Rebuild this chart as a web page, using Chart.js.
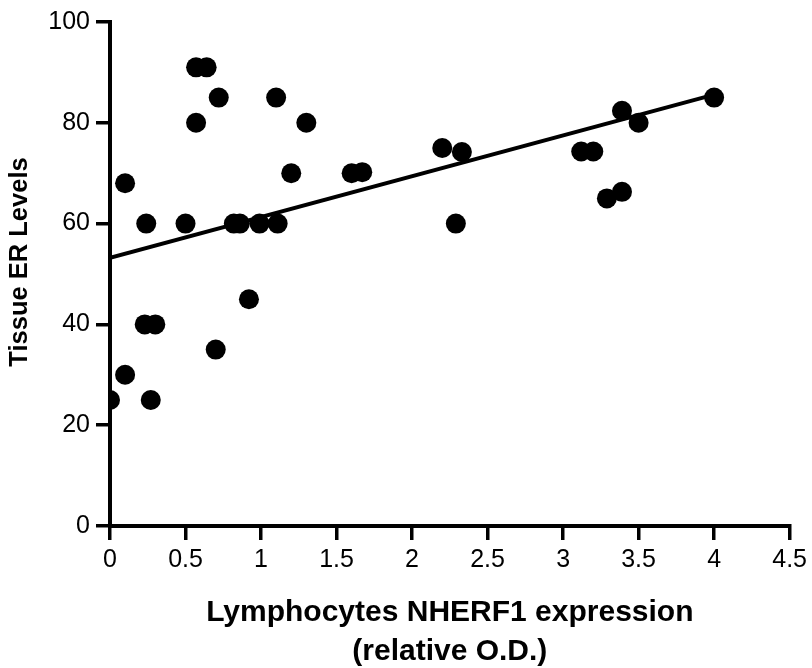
<!DOCTYPE html>
<html>
<head>
<meta charset="utf-8">
<script src="https://cdn.jsdelivr.net/npm/chart.js@4.4.1/dist/chart.umd.min.js"></script>
<style>
  html, body { margin: 0; padding: 0; background: #fff; }
  #wrap { width: 812px; height: 668px; }
</style>
</head>
<body>
<div id="wrap"><canvas id="c" width="812" height="668"></canvas></div>
<script>
// Data
const nherf1 = [0.00, 0.10, 0.10, 0.23, 0.30, 0.24, 0.27, 0.50, 0.57, 0.64, 0.57, 0.72, 0.70, 0.82, 0.86, 0.92, 0.99, 1.11, 1.10, 1.20, 1.30, 1.60, 1.67, 2.20, 2.29, 2.33, 3.12, 3.20, 3.29, 3.39, 3.39, 3.50, 4.00];
const erLevels = [25, 30, 68, 40, 40, 60, 25, 60, 91, 91, 80, 85, 35, 60, 60, 45, 60, 60, 85, 70, 80, 70, 70.2, 75, 60, 74.2, 74.3, 74.3, 65, 66.3, 82.4, 80, 85];
const fitX = [0, 4.0];
const fitY = [53.2, 85.6];
const xTicks = [0, 0.5, 1, 1.5, 2, 2.5, 3, 3.5, 4, 4.5];
const yTicks = [0, 20, 40, 60, 80, 100];

const points = nherf1.map((x, i) => ({ x: x, y: erLevels[i] }));
const fit = fitX.map((x, i) => ({ x: x, y: fitY[i] }));

const FONT = "'Liberation Sans', Arial, sans-serif";

// shift the y-axis title slightly upward, as in the reference
const yTitleShift = {
  id: 'yTitleShift',
  afterLayout(chart) {
    const s = chart.scales.y;
    if (s && !s._patched) {
      const orig = s.drawTitle;
      s.drawTitle = function () {
        const ctx = this.ctx;
        ctx.save();
        ctx.translate(0, -12);
        orig.apply(this, arguments);
        ctx.restore();
      };
      s._patched = true;
    }
  }
};

new Chart(document.getElementById('c'), {
  type: 'scatter',
  data: {
    datasets: [
      {
        label: 'Samples',
        data: points,
        pointRadius: 10,
        pointHoverRadius: 10,
        backgroundColor: '#000',
        borderWidth: 0,
        order: 1
      },
      {
        type: 'line',
        label: 'Regression',
        data: fit,
        borderColor: '#000',
        borderWidth: 4,
        pointRadius: 0,
        fill: false,
        showLine: true,
        order: 2
      }
    ]
  },
  plugins: [yTitleShift],
  options: {
    responsive: false,
    animation: false,
    events: [],
    layout: { padding: { top: 22, right: 22, left: 0, bottom: 0 } },
    plugins: {
      legend: { display: false },
      tooltip: { enabled: false }
    },
    scales: {
      x: {
        type: 'linear',
        min: 0,
        max: 4.5,
        afterFit: s => { s.height = 142; },
        afterBuildTicks: s => { s.ticks = xTicks.map(v => ({ value: v })); },
        border: { display: true, color: '#000', width: 4 },
        grid: { display: true, drawOnChartArea: false, drawTicks: true, tickLength: 14, color: '#000', lineWidth: 3.5 },
        ticks: {
          color: '#000',
          font: { family: FONT, size: 25 },
          padding: 5,
          maxRotation: 0,
          autoSkip: false,
          callback: v => String(v)
        },
        title: {
          display: true,
          text: ['Lymphocytes NHERF1 expression', '(relative O.D.)'],
          color: '#000',
          font: { family: FONT, size: 30, weight: 'bold', lineHeight: 1.3 },
          padding: { top: 0, bottom: -3 }
        }
      },
      y: {
        type: 'linear',
        min: 0,
        max: 100,
        afterFit: s => { s.width = 110; },
        afterBuildTicks: s => { s.ticks = yTicks.map(v => ({ value: v })); },
        border: { display: true, color: '#000', width: 4 },
        grid: { display: true, drawOnChartArea: false, drawTicks: true, tickLength: 14, color: '#000', lineWidth: 3.5 },
        ticks: {
          color: '#000',
          font: { family: FONT, size: 25 },
          padding: 6,
          autoSkip: false,
          callback: v => String(v)
        },
        title: {
          display: true,
          text: 'Tissue ER Levels',
          color: '#000',
          font: { family: FONT, size: 25.5, weight: 'bold', lineHeight: 1.2 },
          padding: { top: 5, bottom: 0 }
        }
      }
    }
  }
});
</script>
</body>
</html>
